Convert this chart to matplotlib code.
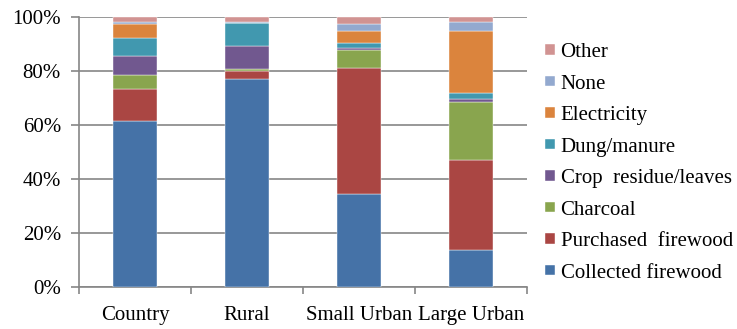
import matplotlib.pyplot as plt
import numpy as np

categories = ['Country', 'Rural', 'Small Urban', 'Large Urban']
series_names = ['Collected firewood', 'Purchased  firewood', 'Charcoal', 'Crop  residue/leaves',
                'Dung/manure', 'Electricity', 'None', 'Other']
collected = [61.4, 77.0, 34.4, 13.7]
purchased = [12.1, 3.0, 46.8, 33.2]
charcoal = [5.2, 0.7, 6.5, 21.7]
crop = [6.8, 8.6, 0.7, 1.2]
dung = [6.8, 8.3, 2.0, 2.0]
electricity = [5.2, 0.0, 4.4, 23.2]
none = [0.7, 0.5, 2.5, 3.0]
other = [1.8, 1.9, 2.6, 2.0]
colors = ['#4572A7', '#AA4643', '#89A54E', '#71588F', '#4198AF', '#DB843D', '#93A9CF', '#D19392']

series = [collected, purchased, charcoal, crop, dung, electricity, none, other]

plt.rcParams['font.family'] = ['Liberation Serif', 'DejaVu Serif']
fig = plt.figure(figsize=(7.37, 3.29), dpi=100)
ax = fig.add_axes([79 / 737, 1 - 287 / 329, 448 / 737, 270 / 329])

x = np.arange(len(categories))
bottom = np.zeros(len(categories))
handles = []
for name, vals, c in zip(series_names, series, colors):
    vals = np.array(vals) / 100
    b = ax.bar(x, vals, 0.4, bottom=bottom, color=c, label=name, zorder=3,
               edgecolor='#ffffff', linewidth=0.3)
    bottom += vals
    handles.append(b)

ax.set_xlim(-0.5, 3.5)
ax.set_ylim(0, 1)
ax.set_yticks(np.arange(0, 1.01, 0.2))
ax.set_yticklabels([f'{int(round(v * 100))}%' for v in np.arange(0, 1.01, 0.2)])
ax.yaxis.grid(True, color='#868686', linewidth=1.2, zorder=0)
ax.set_xticks(x)
ax.set_xticklabels(categories)
ax.set_xticks(np.arange(-0.5, 3.6, 1), minor=True)
ax.tick_params(axis='x', which='major', length=0, labelsize=15, pad=14)
ax.tick_params(axis='x', which='minor', length=5, color='#868686', width=1.2)
ax.tick_params(axis='y', length=6, color='#868686', width=1.2, labelsize=15, pad=7)
for s in ['top', 'right']:
    ax.spines[s].set_visible(False)
for s in ['left', 'bottom']:
    ax.spines[s].set_color('#868686')
    ax.spines[s].set_linewidth(1.2)

ax.legend(handles[::-1], series_names[::-1], loc='center left', bbox_to_anchor=(1.04, 0.46),
          frameon=False, fontsize=15, handlelength=0.5, handleheight=0.4,
          handletextpad=0.25, labelspacing=0.6, borderpad=0, borderaxespad=0)

fig.savefig('out.png', dpi=100)
